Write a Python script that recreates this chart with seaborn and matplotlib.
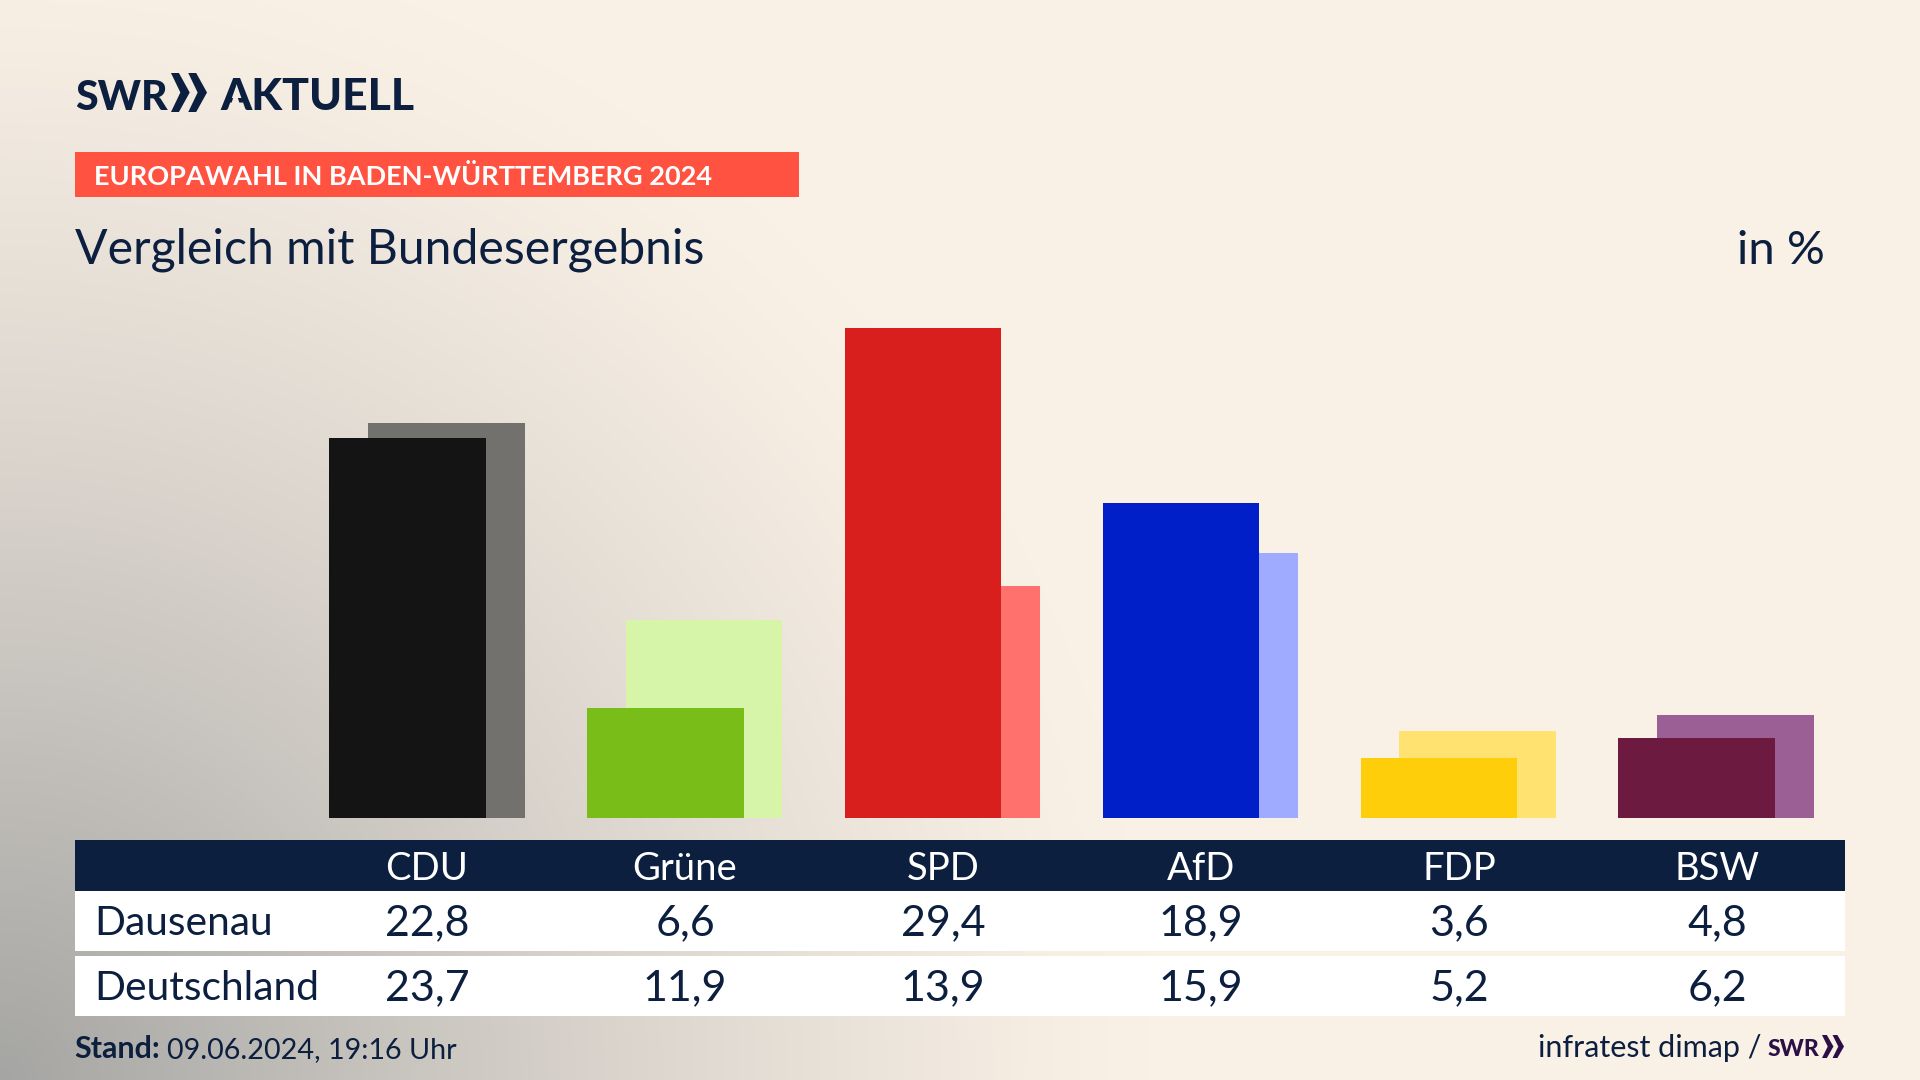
import numpy as np
import pandas as pd
from matplotlib import pyplot as plt
from matplotlib.patches import Polygon, Rectangle
import seaborn as sns

parteien = ['CDU', 'Grüne', 'SPD', 'AfD', 'FDP', 'BSW']
dausenau = [22.8, 6.6, 29.4, 18.9, 3.6, 4.8]
deutschland = [23.7, 11.9, 13.9, 15.9, 5.2, 6.2]
dausenau_txt = ['22,8', '6,6', '29,4', '18,9', '3,6', '4,8']
deutschland_txt = ['23,7', '11,9', '13,9', '15,9', '5,2', '6,2']
farben_vorne = ['#141414', '#79BD19', '#D81F1D', '#001FC8', '#FFCE0A', '#6C1A40']
farben_hinten = ['#73716D', '#D7F5A9', '#FF716C', '#9EABFF', '#FFE270', '#9B5F95']

NAVY = '#0C1F3F'
LILA = '#2B0F45'
CREME = np.array([250, 241, 230]) / 255
GRAU = np.array([165, 165, 163]) / 255

sns.set_theme(style='white')
plt.rcParams['font.family'] = ['Lato', 'DejaVu Sans']


def hintergrund(xx, yy):
    t = np.clip(1 - np.hypot(xx, 1080 - yy) / 1150, 0, 1) ** 1.25
    return CREME * (1 - t[..., None]) + GRAU * t[..., None]


fig = plt.figure(figsize=(19.2, 10.8), dpi=100)

bg = fig.add_axes([0, 0, 1, 1], zorder=0)
yy, xx = np.mgrid[0:1080:270j, 0:1920:480j]
bg.imshow(hintergrund(xx, yy), extent=(0, 1920, 1080, 0), aspect='auto', interpolation='bilinear')
bg.set_axis_off()

# balken
ax = fig.add_axes([298 / 1920, (1080 - 818) / 1080, 1547 / 1920, 533 / 1080], zorder=1)
ax.patch.set_alpha(0)
pos = np.arange(len(parteien))
df_hinten = pd.DataFrame({'pos': pos + 0.0756, 'wert': deutschland, 'partei': parteien})
df_vorne = pd.DataFrame({'pos': pos - 0.0756, 'wert': dausenau, 'partei': parteien})
sns.barplot(data=df_hinten, x='pos', y='wert', hue='partei', palette=farben_hinten, native_scale=True,
            dodge=False, width=0.607, saturation=1, legend=False, linewidth=0, edgecolor='none', ax=ax)
sns.barplot(data=df_vorne, x='pos', y='wert', hue='partei', palette=farben_vorne, native_scale=True,
            dodge=False, width=0.607, saturation=1, legend=False, linewidth=0, edgecolor='none', ax=ax)
ax.set_xlim(-0.5, 5.5)
ax.set_ylim(0, 32)
ax.set_axis_off()

# alles andere in pixeln
ov = fig.add_axes([0, 0, 1, 1], zorder=2)
ov.set_xlim(0, 1920)
ov.set_ylim(1080, 0)
ov.set_axis_off()
ov.patch.set_alpha(0)

ov.add_patch(Rectangle((75, 152), 724, 45, color='#FF5240', lw=0))
ov.add_patch(Rectangle((75, 840), 1770, 51, color=NAVY, lw=0))
ov.add_patch(Rectangle((75, 891), 1770, 60, color='white', lw=0))
ov.add_patch(Rectangle((75, 956), 1770, 60, color='white', lw=0))


def chevrons(x, y, h, w, farbe):
    for dx in (0, w * 0.48):
        ov.add_patch(Polygon([(x + dx, y), (x + dx + w * 0.22, y), (x + dx + w * 0.52, y + h / 2),
                              (x + dx + w * 0.22, y + h), (x + dx, y + h), (x + dx + w * 0.26, y + h / 2)],
                             color=farbe, lw=0))


ov.text(75, 110, 'SWR', fontsize=29.5, fontweight='black', color=NAVY)
chevrons(171, 73, 39, 36, NAVY)
ov.text(220, 110, 'AKTUELL', fontsize=32, fontweight='black', color=NAVY)
# das A im logo hat keinen querstrich
a_x, a_b = 220, 31
quer = [(a_x + a_b * (0.30 + 0.33 * h), 110 - 32 * h) for h in (0.14, 0.42)]
quer += [(2 * a_x + a_b - px, py) for px, py in reversed(quer)]
ov.add_patch(Polygon(quer, color=hintergrund(np.array(a_x + 14.0), np.array(100.0)), lw=0, zorder=5))

ov.text(94, 185, 'EUROPAWAHL IN BADEN-WÜRTTEMBERG 2024', fontsize=19.5, fontweight='bold', color='white')
ov.text(75, 264, 'Vergleich mit Bundesergebnis', fontsize=34.7, color=NAVY)
ov.text(1825, 264, 'in %', fontsize=34, color=NAVY, ha='right')

ov.text(94, 935, 'Dausenau', fontsize=29.3, color=NAVY)
ov.text(94, 1000, 'Deutschland', fontsize=29.3, color=NAVY)
for i, name in enumerate(parteien):
    x = 427 + 258 * i
    ov.text(x, 880, name, fontsize=27.5, color='white', ha='center')
    ov.text(x, 935, dausenau_txt[i], fontsize=31, color=NAVY, ha='center')
    ov.text(x, 1000, deutschland_txt[i], fontsize=31, color=NAVY, ha='center')

ov.text(74.5, 1058, 'Stand:', fontsize=22, fontweight='bold', color=NAVY)
ov.text(167, 1058, '09.06.2024, 19:16 Uhr', fontsize=20.7, color=NAVY)
ov.text(1762, 1057, 'infratest dimap /', fontsize=22, color=NAVY, ha='right')
ov.text(1768, 1056, 'SWR', fontsize=16.5, fontweight='black', color=LILA)
chevrons(1822, 1035, 23, 22, LILA)

fig.savefig('out.png', dpi=100)
